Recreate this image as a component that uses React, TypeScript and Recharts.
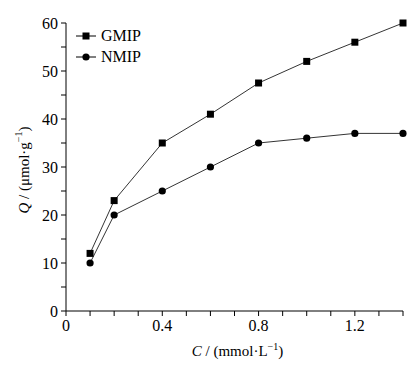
import React from 'react';
import { LineChart, Line, XAxis, YAxis } from 'recharts';

const concentrations = [0.1, 0.2, 0.4, 0.6, 0.8, 1.0, 1.2, 1.4];
const gmipValues = [12, 23, 35, 41, 47.5, 52, 56, 60];
const nmipValues = [10, 20, 25, 30, 35, 36, 37, 37];

const xTicks = [0, 0.1, 0.2, 0.3, 0.4, 0.5, 0.6, 0.7, 0.8, 0.9, 1.0, 1.1, 1.2, 1.3, 1.4];
const xLabels = ['0', '0.4', '0.8', '1.2'];
const yTicks = [0, 5, 10, 15, 20, 25, 30, 35, 40, 45, 50, 55, 60];
const seriesNames = ['GMIP', 'NMIP'];

const data = concentrations.map((c, i) => ({ c, gmip: gmipValues[i], nmip: nmipValues[i] }));

const FONT = '"Liberation Serif", "Times New Roman", serif';

const Square = (props: any) => {
  const { cx, cy } = props;
  if (cx == null || cy == null) return null;
  return <rect x={cx - 3.5} y={cy - 3.5} width={7} height={7} fill="#000" />;
};

const Dot = (props: any) => {
  const { cx, cy } = props;
  if (cx == null || cy == null) return null;
  return <circle cx={cx} cy={cy} r={3.6} fill="#000" />;
};

// legend drawn over the plot, top-left corner
const LegendBox = () => (
  <div style={{ position: 'absolute', left: 76, top: 25, fontFamily: FONT, fontSize: 16, color: '#000', lineHeight: '21px' }}>
    {seriesNames.map((name, i) => (
      <div key={name} style={{ display: 'flex', alignItems: 'center' }}>
        <svg width={22} height={12} style={{ marginRight: 3 }}>
          <line x1={0} y1={6} x2={20} y2={6} stroke="#000" strokeWidth={1} />
          {i === 0 ? <rect x={6.5} y={2.5} width={7} height={7} fill="#000" /> : <circle cx={10} cy={6} r={3.6} fill="#000" />}
        </svg>
        <span>{name}</span>
      </div>
    ))}
  </div>
);

const YLabel = (props: any) => {
  const { viewBox } = props;
  const cy = viewBox.y + viewBox.height / 2 + 3;
  return (
    <text x={24} y={cy} transform={`rotate(-90, 24, ${cy})`} textAnchor="middle" dominantBaseline="central"
      fontFamily={FONT} fontSize={15} fill="#000">
      <tspan fontStyle="italic">Q</tspan>
      <tspan> / (μmol·g</tspan>
      <tspan fontSize={10} dy={-6}>−1</tspan>
      <tspan dy={6}>)</tspan>
    </text>
  );
};

const XLabel = (props: any) => {
  const { viewBox } = props;
  const cx = viewBox.x + viewBox.width / 2;
  return (
    <text x={cx + 3} y={356} textAnchor="middle" fontFamily={FONT} fontSize={15} fill="#000">
      <tspan fontStyle="italic">C</tspan>
      <tspan> / (mmol·L</tspan>
      <tspan fontSize={10} dy={-6}>−1</tspan>
      <tspan dy={6}>)</tspan>
    </text>
  );
};

const App = () => {
  return (
    <div style={{ position: 'absolute', left: 0, top: 0, width: 420, height: 366, background: '#fff' }}>
      <LineChart width={420} height={366} data={data} margin={{ top: 23, right: 17, bottom: 25, left: 6 }}
        style={{ fontFamily: FONT }}>
        <XAxis
          dataKey="c"
          type="number"
          domain={[0, 1.4]}
          ticks={xTicks}
          interval={0}
          tickFormatter={(v: number) => {
            const s = String(Math.round(v * 10) / 10);
            return xLabels.includes(s) ? s : '';
          }}
          tickSize={5}
          tickMargin={4}
          height={30}
          stroke="#000"
          tick={{ fill: '#000', fontFamily: FONT, fontSize: 16 }}
          label={<XLabel />}
        />
        <YAxis
          type="number"
          domain={[0, 60]}
          ticks={yTicks}
          interval={0}
          tickFormatter={(v: number) => (v % 10 === 0 ? String(v) : '')}
          tickSize={5}
          tickMargin={3}
          width={60}
          stroke="#000"
          tick={{ fill: '#000', fontFamily: FONT, fontSize: 16 }}
          label={<YLabel />}
        />
        <Line dataKey="gmip" name="GMIP" stroke="#000" strokeWidth={0.8} dot={<Square />} isAnimationActive={false} />
        <Line dataKey="nmip" name="NMIP" stroke="#000" strokeWidth={0.8} dot={<Dot />} isAnimationActive={false} />
      </LineChart>
      <LegendBox />
    </div>
  );
};

export default App;
